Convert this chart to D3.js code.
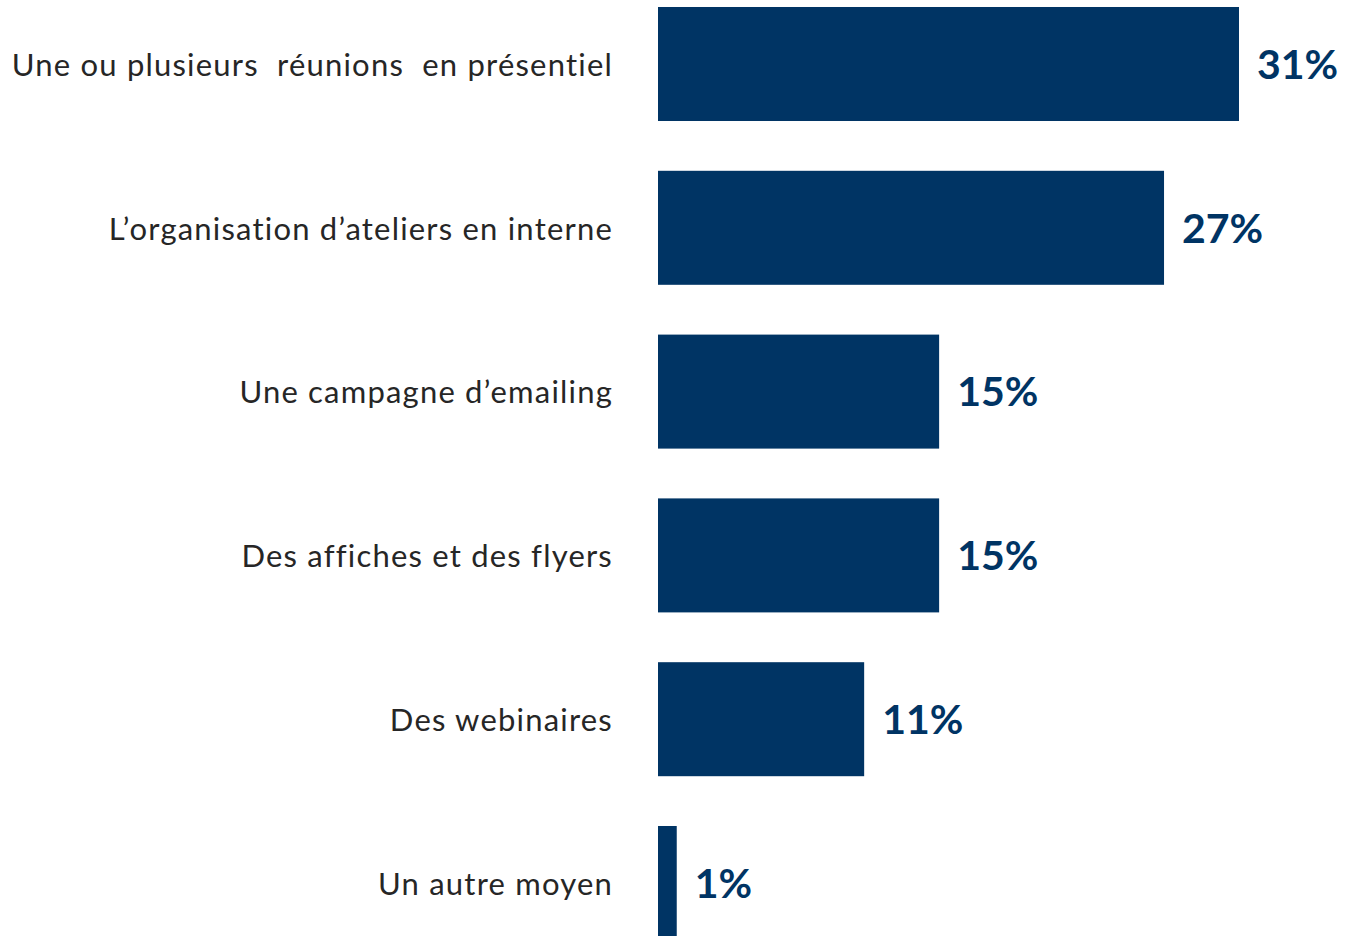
<!DOCTYPE html>
<html>
<head>
<meta charset="utf-8">
<script src="https://cdn.jsdelivr.net/npm/d3@7.9.0/dist/d3.min.js"></script>
<style>
  body { margin: 0; background: #fff; }
  svg { display: block; }
</style>
</head>
<body>
<svg id="chart" width="1346" height="936"></svg>
<script>
// Data
const categories = [
  'Une ou plusieurs  réunions  en présentiel',
  'L’organisation d’ateliers en interne',
  'Une campagne d’emailing',
  'Des affiches et des flyers',
  'Des webinaires',
  'Un autre moyen'
];
const values = [31, 27, 15, 15, 11, 1];
const valueLabels = ['31%', '27%', '15%', '15%', '11%', '1%'];

const data = categories.map((c, i) => ({ label: c, value: values[i], text: valueLabels[i] }));

const svg = d3.select('#chart');
const barColor = '#003464';

// Scales
const x = d3.scaleLinear().domain([0, 31]).range([658, 1239]);
const y = d3.scaleBand()
  .domain(categories)
  .range([-17.9, 964.9])
  .paddingInner(0.304)
  .paddingOuter(0.152);

// Bars
svg.selectAll('rect.bar')
  .data(data)
  .join('rect')
  .attr('class', 'bar')
  .attr('x', x(0))
  .attr('y', d => y(d.label))
  .attr('width', d => x(d.value) - x(0))
  .attr('height', y.bandwidth())
  .attr('fill', barColor);

// Category labels
svg.selectAll('text.cat')
  .data(data)
  .join('text')
  .attr('class', 'cat')
  .attr('x', 613)
  .attr('y', d => y(d.label) + y.bandwidth() / 2)
  .attr('dy', '0.38em')
  .attr('text-anchor', 'end')
  .style('font-family', 'Lato, "Open Sans", sans-serif')
  .style('font-size', '31px')
  .style('letter-spacing', '1.2px')
  .style('font-variant-ligatures', 'none')
  .style('white-space', 'pre')
  .attr('fill', '#262626')
  .text(d => d.label);

// Value labels
svg.selectAll('text.val')
  .data(data)
  .join('text')
  .attr('class', 'val')
  .attr('x', d => x(d.value) + 18)
  .attr('y', d => y(d.label) + y.bandwidth() / 2)
  .attr('dy', '0.36em')
  .style('font-family', 'Lato, "Open Sans", sans-serif')
  .style('font-size', '41px')
  .style('font-weight', 'bold')
  .attr('fill', barColor)
  .text(d => d.text);
</script>
</body>
</html>
